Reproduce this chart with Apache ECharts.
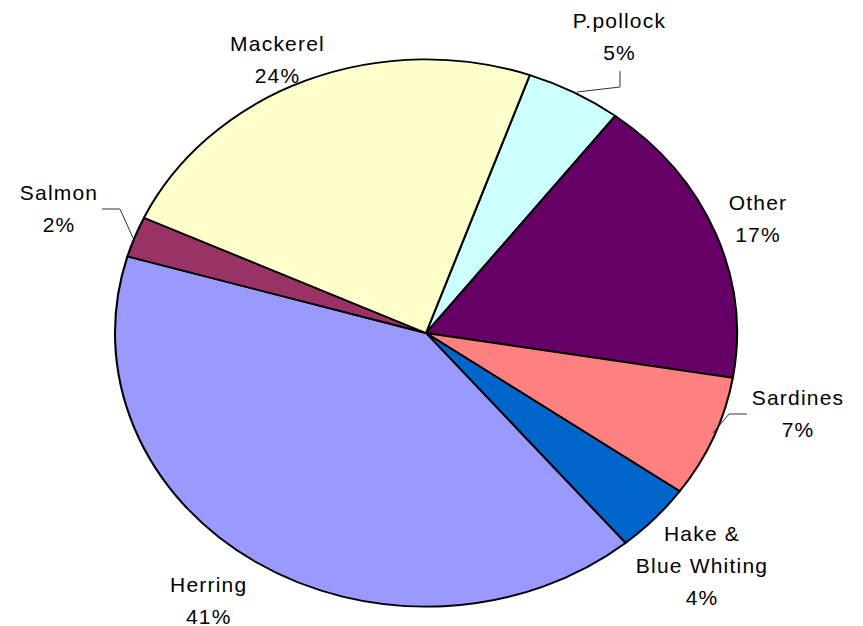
<!DOCTYPE html>
<html><head><meta charset="utf-8">
<script src="https://cdn.jsdelivr.net/npm/echarts@6/dist/echarts.min.js"></script>
<style>
html,body{margin:0;padding:0;background:#fff;}
#wrap{position:relative;width:863px;height:626px;overflow:hidden;}
#pie{position:absolute;left:0;top:0;width:863px;height:720px;transform:scaleY(0.88);transform-origin:0 333px;}
#labels{position:absolute;left:0;top:0;width:863px;height:626px;letter-spacing:1.2px;}
</style></head><body>
<div id="wrap"><div id="pie"></div><div id="labels"></div></div>
<script>
// Data (share of catch, %), clockwise from the P.pollock slice
const categories = ['P.pollock', 'Other', 'Sardines', 'Hake & Blue Whiting', 'Herring', 'Salmon', 'Mackerel'];
const shares = [5.0, 17.2, 7.2, 4.1, 40.6, 2.4, 23.5];

// Styles
const palette = ['#CCFFFF', '#660066', '#FF8080', '#0066CC', '#9999FF', '#993366', '#FFFFCC'];
const labelPos = {
  'P.pollock': [619.5, 36.5],
  'Other': [758, 218.5],
  'Sardines': [798, 413],
  'Hake & Blue Whiting': [702, 565],
  'Herring': [208.7, 600],
  'Salmon': [59, 208],
  'Mackerel': [277.5, 59.5]
};
const leaders = {
  'P.pollock': [[620, 71], [620, 87], [577, 92]],
  'Sardines': [[747, 414], [729, 414], [713, 433]],
  'Salmon': [[102, 209], [120, 209], [133, 238]]
};

const center = [426, 333];
const radius = 311;
const startAngle = 70.5;

const pieChart = echarts.init(document.getElementById('pie'), null, {renderer: 'svg', width: 863, height: 720});
pieChart.setOption({
  animation: false,
  series: [{
    type: 'pie',
    silent: true,
    center: center,
    radius: radius,
    startAngle: startAngle,
    clockwise: true,
    label: {show: false},
    labelLine: {show: false},
    itemStyle: {borderColor: '#000', borderWidth: 2.1},
    data: categories.map((c, i) => ({name: c, value: shares[i], itemStyle: {color: palette[i]}}))
  }]
});

const labelChart = echarts.init(document.getElementById('labels'), null, {renderer: 'svg', width: 863, height: 626});
labelChart.setOption({
  animation: false,
  series: [{
    type: 'pie',
    silent: true,
    center: center,
    radius: radius,
    startAngle: startAngle,
    clockwise: true,
    avoidLabelOverlap: false,
    itemStyle: {color: 'rgba(0,0,0,0)', borderWidth: 0},
    label: {
      show: true,
      position: 'outside',
      color: '#000',
      fontSize: 21,
      fontFamily: '"Liberation Sans", Arial, sans-serif',
      lineHeight: 32,
      align: 'center',
      formatter: p => p.name.replace('& ', '&\n') + '\n' + Math.round(p.percent) + '%'
    },
    labelLine: {show: true, lineStyle: {color: '#333', width: 1}},
    labelLayout: function (params) {
      const name = categories[params.dataIndex];
      const pos = labelPos[name];
      const out = {x: pos[0], y: pos[1], align: 'center', verticalAlign: 'middle'};
      if (leaders[name]) out.labelLinePoints = leaders[name];
      return out;
    },
    data: categories.map((c, i) => ({name: c, value: shares[i], labelLine: {show: !!leaders[c]}}))
  }]
});
</script>
</body></html>
